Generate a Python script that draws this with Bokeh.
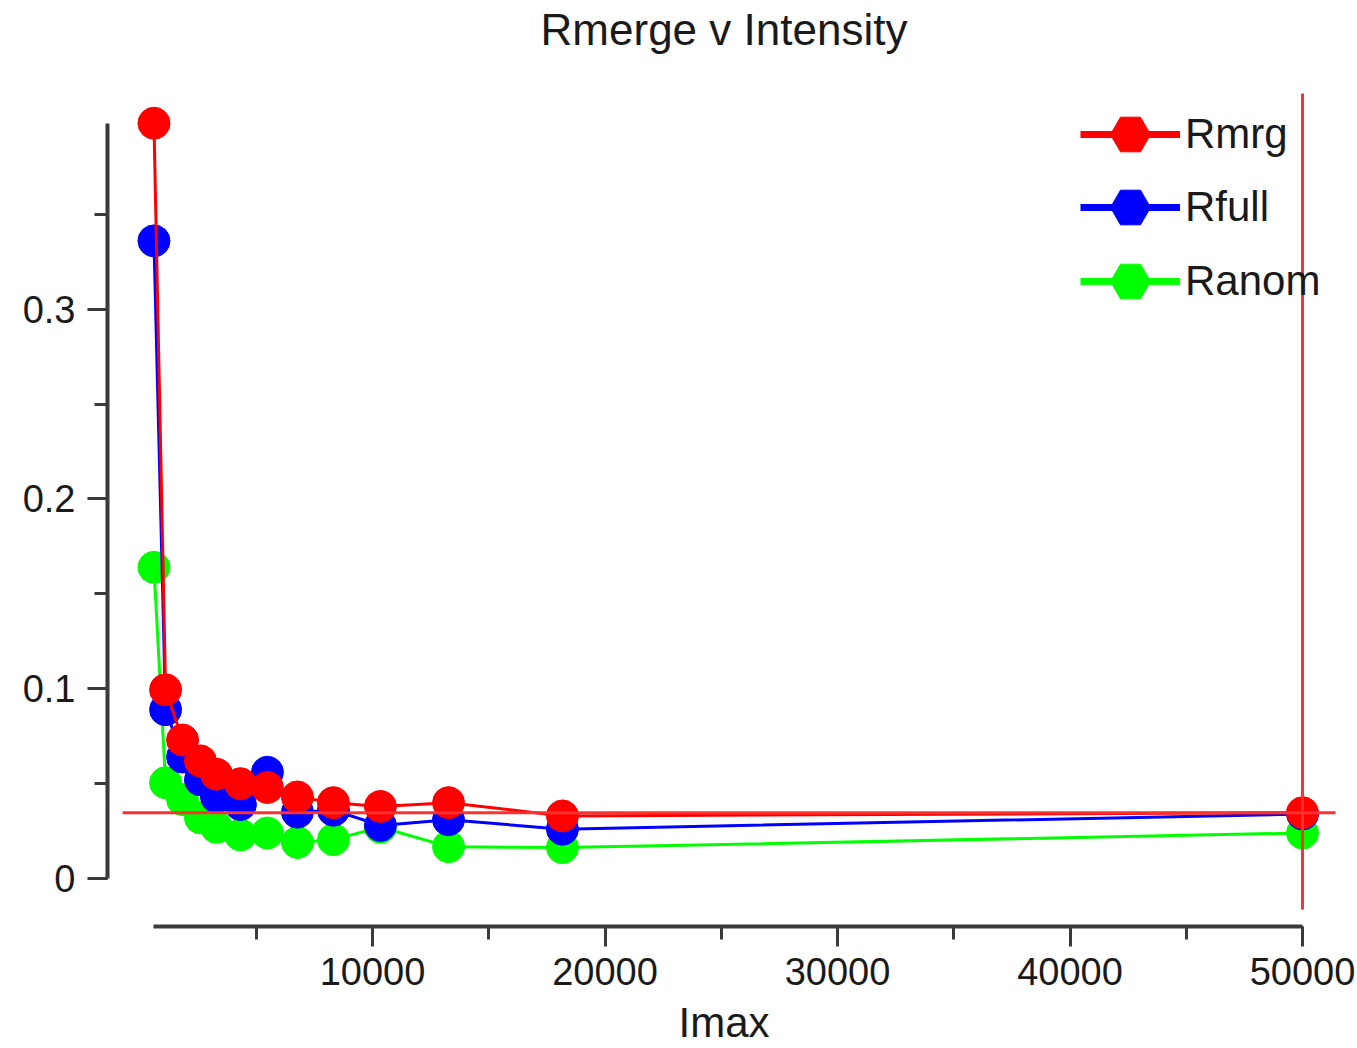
from bokeh.plotting import figure
from bokeh.models import Range1d, SingleIntervalTicker, Legend, LegendItem
from bokeh.embed import file_html
from bokeh.resources import INLINE

# ---- data ----
imax = [600, 1100, 1830, 2600, 3290, 4320, 5480, 6770, 8320, 10340, 13270, 18170, 50000]
rmrg = [0.398, 0.0995, 0.073, 0.062, 0.055, 0.050, 0.048, 0.043, 0.040, 0.038, 0.040, 0.033, 0.0347]
rfull = [0.336, 0.089, 0.064, 0.052, 0.043, 0.039, 0.056, 0.035, 0.036, 0.028, 0.031, 0.026, 0.034]
ranom = [0.164, 0.0505, 0.0416, 0.032, 0.027, 0.023, 0.024, 0.019, 0.0205, 0.027, 0.0168, 0.0163, 0.024]

series_names = ["Rmrg", "Rfull", "Ranom"]
series_colors = ["#ff0000", "#0000ff", "#00ff00"]
chart_title = "Rmerge v Intensity"
x_label = "Imax"

# cursor (cross-hair) extents, layout only
cursor_y_extent = (-0.0163, 0.4137)
cursor_x_extent = (-750, 51420)

FONT = "Liberation Sans"
TXT = "#1a1a1a"
AX = "#3a3a3a"
NAN = float("nan")

p = figure(width=1357, height=1048,
           x_range=Range1d(-1398, 51634), y_range=Range1d(-0.025263, 0.43368),
           output_backend="svg", toolbar_location=None,
           min_border_left=107, min_border_right=17, min_border_top=55, min_border_bottom=121,
           title=chart_title)

p.grid.visible = False
p.outline_line_color = None
p.background_fill_color = "white"

p.title.text_font = FONT
p.title.text_font_size = "44px"
p.title.text_font_style = "normal"
p.title.text_color = TXT
p.title.align = "center"
p.title.standoff = 3

# x axis
xa = p.xaxis[0]
xa.ticker = SingleIntervalTicker(interval=10000, num_minor_ticks=2)
xa.bounds = (min(imax), max(imax))
xa.axis_label = x_label
xa.axis_label_text_font = FONT
xa.axis_label_text_font_size = "42px"
xa.axis_label_text_font_style = "normal"
xa.axis_label_text_color = TXT
xa.axis_label_standoff = 11
xa.major_label_text_font = FONT
xa.major_label_text_font_size = "38px"
xa.major_label_text_color = TXT
xa.major_label_standoff = 11

# y axis
ya = p.yaxis[0]
ya.ticker = SingleIntervalTicker(interval=0.1, num_minor_ticks=2)
ya.bounds = (0, max(rmrg))
ya.major_label_text_font = FONT
ya.major_label_text_font_size = "38px"
ya.major_label_text_color = TXT
ya.major_label_standoff = 12
ya.major_label_overrides = {0: "0"}

for ax in (xa, ya):
    ax.axis_line_width = 4
    ax.axis_line_color = AX
    ax.major_tick_line_color = AX
    ax.minor_tick_line_color = AX
    ax.major_tick_line_width = 3
    ax.minor_tick_line_width = 3
    ax.major_tick_in = 0
    ax.major_tick_out = 20
    ax.minor_tick_in = 0
    ax.minor_tick_out = 13

# data, drawn green first, red on top
vals = {"Rmrg": rmrg, "Rfull": rfull, "Ranom": ranom}
for name, color in reversed(list(zip(series_names, series_colors))):
    p.line(imax, vals[name], line_color=color, line_width=3)
    p.scatter(imax, vals[name], size=32, marker="circle", fill_color=color, line_color=color)

# legends: one per row, each with its own sample glyphs (not plotted: NaN)
row_bottoms = [742, 669, 595]
for name, color, vy in zip(series_names, series_colors, row_bottoms):
    lr = p.line(x=[NAN], y=[NAN], line_color=color, line_width=7)
    sr = p.scatter(x=[NAN], y=[NAN], marker="hex", fill_color=color, line_color=color)
    lg = Legend(items=[LegendItem(label=name, renderers=[lr, sr])], location=(973, vy),
                glyph_width=100, glyph_height=100, padding=0, margin=0, spacing=0,
                label_standoff=5, label_text_font=FONT, label_text_font_size="42px",
                label_text_color=TXT, background_fill_alpha=0, border_line_color=None)
    p.add_layout(lg)

# cross-hair cursor at the last Rmrg point
cx, cy = imax[-1], rmrg[-1]
v = p.segment(x0=[cx], y0=[cursor_y_extent[0]], x1=[cx], y1=[cursor_y_extent[1]],
              line_color="#ff3030", line_width=3)
h = p.segment(x0=[cursor_x_extent[0]], y0=[cy], x1=[cursor_x_extent[1]], y1=[cy],
              line_color="#ff3030", line_width=3)
v.level = "overlay"
h.level = "overlay"

open("out.html", "w").write(file_html(p, INLINE))
